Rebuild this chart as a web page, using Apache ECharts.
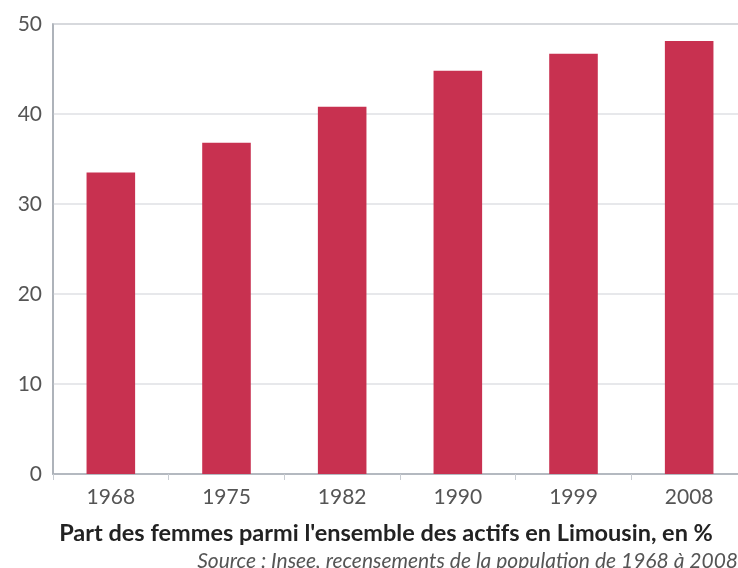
<!DOCTYPE html>
<html>
<head>
    <meta charset="utf-8">
    <title>Part des femmes parmi les actifs</title>
    <script src="https://cdn.jsdelivr.net/npm/echarts@6/dist/echarts.min.js"></script>
    <style>
        html, body { margin: 0; padding: 0; background: #fff; }
        #main { width: 738px; height: 568px; }
    </style>
</head>
<body>
<div id="main"></div>
<script>
    var annees = ['1968', '1975', '1982', '1990', '1999', '2008'];
    var partFemmes = [33.5, 36.8, 40.8, 44.8, 46.7, 48.1];
    var yTicks = [0, 10, 20, 30, 40, 50];

    var chart = echarts.init(document.getElementById('main'));

    var option = {
        animation: false,
        textStyle: { fontFamily: 'Lato' },
        title: [{
            text: "Part des femmes parmi l'ensemble des actifs en Limousin, en %",
            left: 381,
            textAlign: 'center',
            top: 516,
            textStyle: { fontSize: 23.5, fontWeight: 'bold', color: '#222', fontFamily: 'Lato' }
        }, {
            text: 'Source : Insee, recensements de la population de 1968 à 2008',
            right: -5,
            top: 546,
            textStyle: { fontSize: 21, fontWeight: 'normal', fontStyle: 'italic', color: '#555', fontFamily: 'Lato' }
        }],
        grid: {
            left: 53,
            width: 694,
            top: 24,
            height: 450,
            outerBoundsMode: 'none',
            show: true,
            borderColor: '#a9aeb6',
            borderWidth: 1.5
        },
        xAxis: {
            type: 'category',
            data: annees,
            axisLine: { lineStyle: { color: '#a9aeb6', width: 1.5 } },
            axisTick: { show: true, length: 6, lineStyle: { color: '#c8ccd2' } },
            axisLabel: { fontSize: 21, color: '#555', margin: 13 }
        },
        yAxis: {
            type: 'value',
            min: yTicks[0],
            max: yTicks[yTicks.length - 1],
            interval: 10,
            axisLine: { show: true, lineStyle: { color: '#a9aeb6', width: 1.5 } },
            axisTick: { show: false },
            axisLabel: { fontSize: 21, color: '#555', margin: 11 },
            splitLine: { lineStyle: { color: '#dfe1e4', width: 1.5 } }
        },
        series: [{
            type: 'bar',
            data: partFemmes,
            barWidth: '42%',
            itemStyle: { color: '#c83150' }
        }]
    };

    chart.setOption(option);
</script>
</body>
</html>
